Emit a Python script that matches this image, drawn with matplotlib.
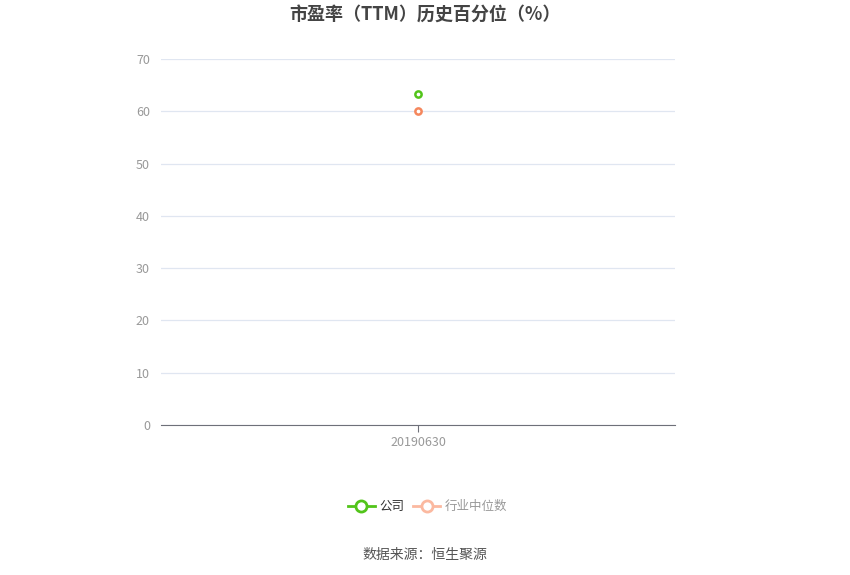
import matplotlib
matplotlib.use("Agg")
import matplotlib.pyplot as plt

plt.rcParams['font.family'] = ['Noto Sans CJK SC', 'DejaVu Sans']

dates = ["20190630"]
company = [63.3]
industry = [60.0]
yticks = [0, 10, 20, 30, 40, 50, 60, 70]

fig = plt.figure(figsize=(8.5, 5.75), dpi=100)
ax = fig.add_axes([0.1894, 0.2609, 0.6047, 0.6365])

x = list(range(len(dates)))
ax.plot(x, company, color="#52c41a", marker="o", markersize=4.5, markerfacecolor="white",
        markeredgewidth=1.8, linewidth=2, zorder=4)
ax.plot(x, industry, color="#f5875d", marker="o", markersize=4.5, markerfacecolor="white",
        markeredgewidth=1.8, linewidth=2, zorder=4)

ax.set_xlim(-0.5, len(dates) - 0.5)
ax.set_ylim(0, 70)
ax.set_yticks(yticks)
ax.set_xticks(x)
ax.set_xticklabels(dates)
ax.grid(axis="y", color="#e0e6f1", linewidth=0.9)
ax.set_axisbelow(True)
for s in ["top", "right", "left"]:
    ax.spines[s].set_visible(False)
ax.spines["bottom"].set_color("#6e7079")
ax.tick_params(axis="y", length=0, labelsize=9, labelcolor="#999999", pad=8)
ax.tick_params(axis="x", length=5, color="#6e7079", labelsize=9, labelcolor="#999999", pad=3)

fig.text(0.5, 0.973, "市盈率（TTM）历史百分位（%）", ha="center", va="center",
         fontsize=13, fontweight="bold", color="#444444")

# legend
lx, ly = 0.425, 0.12
fig.add_artist(plt.Line2D([lx - 0.016, lx + 0.016], [ly, ly], color="#52c41a", linewidth=2,
                          transform=fig.transFigure))
fig.add_artist(plt.Line2D([lx], [ly], color="#52c41a", marker="o", markersize=8,
                          markerfacecolor="white", markeredgewidth=2, transform=fig.transFigure))
fig.text(lx + 0.021, ly, "公司", ha="left", va="center", fontsize=9, color="#333333")
lx2 = 0.502
fig.add_artist(plt.Line2D([lx2 - 0.016, lx2 + 0.016], [ly, ly], color="#fbb9a0", linewidth=2,
                          transform=fig.transFigure))
fig.add_artist(plt.Line2D([lx2], [ly], color="#fbb9a0", marker="o", markersize=8,
                          markerfacecolor="white", markeredgewidth=2, transform=fig.transFigure))
fig.text(lx2 + 0.021, ly, "行业中位数", ha="left", va="center", fontsize=9, color="#999999")

fig.text(0.5, 0.035, "数据来源：恒生聚源", ha="center", va="center", fontsize=10, color="#555555")

fig.savefig("out.png", dpi=100)
